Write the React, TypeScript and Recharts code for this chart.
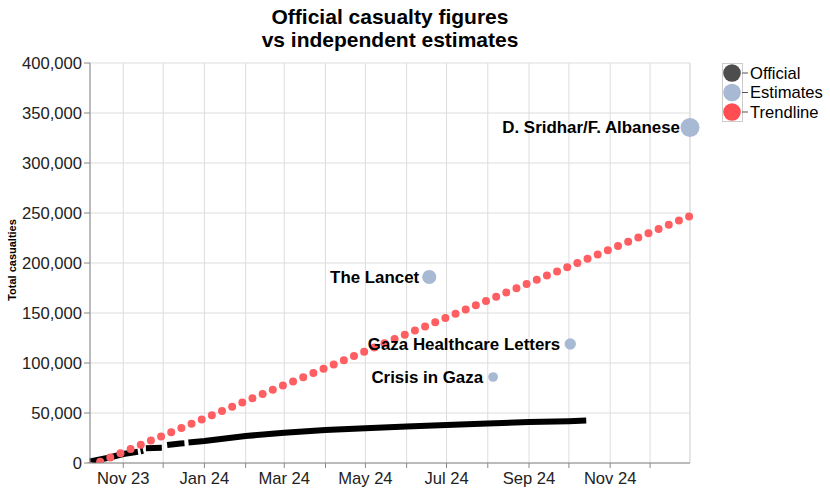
import {
  ComposedChart,
  Line,
  Scatter,
  XAxis,
  YAxis,
  ZAxis,
  CartesianGrid,
  ReferenceLine,
} from "recharts";

const FONT = "'Liberation Sans', Arial, sans-serif";

// official (MoH) cumulative figures, null = gap in the reported series
const officialDates = [
  "2023-10-07", "2023-10-20", "2023-11-01", "2023-11-12", "2023-11-13",
  "2023-11-14", "2023-11-16", "2023-11-17", "2023-11-18", "2023-11-30",
  "2023-12-01", "2023-12-04", "2023-12-14", "2023-12-17", "2023-12-18",
  "2023-12-20", "2024-01-01", "2024-02-01", "2024-03-01", "2024-04-01",
  "2024-05-01", "2024-06-01", "2024-07-01", "2024-08-01", "2024-09-01",
  "2024-10-01", "2024-10-14",
];
const officialValues = [
  1500, 5000, 9000, 11200, null,
  11700, 12300, null, 14800, 15200,
  null, 18000, 19500, 19800, null,
  20500, 22000, 27000, 30300, 33000,
  34800, 36500, 38000, 39500, 40900,
  41800, 42500,
];

const estimateNames = ["Crisis in Gaza", "The Lancet", "Gaza Healthcare Letters", "D. Sridhar/F. Albanese"];
const estimateDates = ["2024-08-05", "2024-06-18", "2024-10-02", "2024-12-31"];
const estimateValues = [86000, 186000, 119000, 335500];

const trendDates = ["2023-10-07", "2024-12-31"];
const trendValues = [-3000, 247000];

const monthTicks = [
  "2023-11-01", "2023-12-01", "2024-01-01", "2024-02-01", "2024-03-01", "2024-04-01", "2024-05-01",
  "2024-06-01", "2024-07-01", "2024-08-01", "2024-09-01", "2024-10-01", "2024-11-01", "2024-12-01",
];
const monthLabels = ["Nov 23", "", "Jan 24", "", "Mar 24", "", "May 24", "", "Jul 24", "", "Sep 24", "", "Nov 24", ""];
const yTicks = [0, 50000, 100000, 150000, 200000, 250000, 300000, 350000, 400000];

const legendItems = [
  { name: "Official", color: "#4d4d4d" },
  { name: "Estimates", color: "#a7b9d3" },
  { name: "Trendline", color: "#ff4d52" },
];

const ts = (s: string) => Date.parse(s + "T00:00:00Z");
const xStart = ts("2023-10-07");
const xEnd = ts("2024-12-31");

const official = officialDates.map((d, i) => ({ t: ts(d), v: officialValues[i] }));
const estimates = estimateDates.map((d, i) => ({ t: ts(d), v: estimateValues[i], name: estimateNames[i] }));
const trend = trendDates.map((d, i) => ({ t: ts(d), v: trendValues[i] }));
const tickTs = monthTicks.map(ts);

const EstimateDot = (props: any) => {
  const { cx, cy, size, payload } = props;
  const r = Math.sqrt(Math.max(size, 0) / Math.PI);
  return (
    <g>
      <circle cx={cx} cy={cy} r={r} fill="#a7b9d3" />
      <text
        x={cx - 10}
        y={cy}
        dy="0.35em"
        textAnchor="end"
        fontFamily={FONT}
        fontSize={16.9}
        fontWeight="bold"
        fill="#000"
      >
        {payload.name}
      </text>
    </g>
  );
};

export default function App() {
  return (
    <div style={{ position: "absolute", left: 0, top: 0, width: 830, height: 492, background: "#fff", fontFamily: FONT }}>
      <ComposedChart width={830} height={492} margin={{ top: 63, right: 140, bottom: 0, left: 0 }}>
        <CartesianGrid stroke="#ddd" />
        <XAxis
          dataKey="t"
          type="number"
          scale="time"
          domain={[xStart, xEnd]}
          ticks={tickTs}
          interval={0}
          height={29}
          tickFormatter={(v: number) => monthLabels[tickTs.indexOf(v)] ?? ""}
          stroke="#888"
          tickSize={5}
          tickMargin={4}
          tick={{ fill: "#222", fontSize: 16.6, fontFamily: FONT }}
        />
        <YAxis
          type="number"
          domain={[0, 400000]}
          allowDataOverflow
          ticks={yTicks}
          interval={0}
          width={90}
          stroke="#888"
          tickSize={6}
          tickMargin={2}
          tickFormatter={(v: number) => v.toLocaleString("en-US")}
          tick={{ fill: "#222", fontSize: 16.6, fontFamily: FONT }}
        />
        <ZAxis dataKey="v" type="number" domain={[0, 335500]} range={[0, 283]} />
        <ReferenceLine x={xEnd} stroke="#ddd" />
        <Line
          data={official}
          dataKey="v"
          stroke="#000"
          strokeWidth={6}
          dot={false}
          connectNulls={false}
          isAnimationActive={false}
        />
        <Line
          data={trend}
          dataKey="v"
          stroke="#ff5f62"
          strokeWidth={8}
          strokeLinecap="round"
          strokeDasharray="0 11"
          dot={false}
          isAnimationActive={false}
        />
        <Scatter data={estimates} dataKey="v" shape={EstimateDot} isAnimationActive={false} />
      </ComposedChart>
      <svg width={830} height={492} style={{ position: "absolute", left: 0, top: 0, pointerEvents: "none" }}>
        <text x={390} y={24} textAnchor="middle" fontFamily={FONT} fontSize={21} fontWeight="bold" fill="#000">
          Official casualty figures
        </text>
        <text x={390} y={47} textAnchor="middle" fontFamily={FONT} fontSize={21} fontWeight="bold" fill="#000">
          vs independent estimates
        </text>
        <text
          x={12.5}
          y={260}
          transform="rotate(-90 12.5 260)"
          textAnchor="middle"
          dy="0.35em"
          fontFamily={FONT}
          fontSize={11}
          fontWeight="bold"
          fill="#000"
        >
          Total casualties
        </text>
        <rect x={722.5} y={63.5} width={20} height={58} fill="none" stroke="#ccc" />
        {legendItems.map((it, i) => {
          const y = 73 + i * 19.5;
          return (
            <g key={it.name}>
              <circle cx={732} cy={y} r={8.8} fill={it.color} />
              <line x1={742} x2={748} y1={y} y2={y} stroke="#555" />
              <text x={750} y={y} dy="0.35em" fontFamily={FONT} fontSize={16.6} fill="#000">
                {it.name}
              </text>
            </g>
          );
        })}
      </svg>
    </div>
  );
}
